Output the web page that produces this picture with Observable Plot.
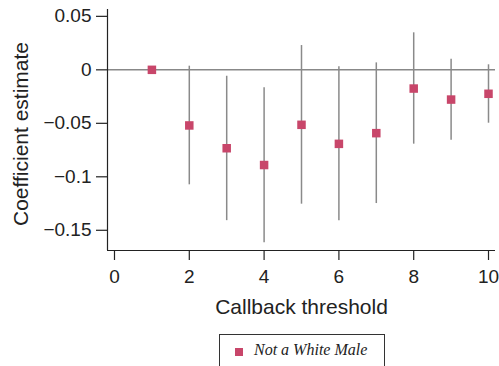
<!DOCTYPE html>
<html>
<head>
<meta charset="utf-8">
<script src="https://cdn.jsdelivr.net/npm/d3@7"></script>
<script src="https://cdn.jsdelivr.net/npm/@observablehq/plot@0.6"></script>
<style>
  body { margin: 0; background: #fff; width: 499px; height: 366px; overflow: hidden; }
  #chart svg { display: block; }
  .legend {
    position: absolute; left: 219px; top: 334px; width: 166px; height: 50px;
    border: 1px solid #333; box-sizing: border-box; background: #fff;
  }
  .legend .sw { position: absolute; left: 15px; top: 13px; width: 8px; height: 8px; background: #c8466a; }
  .legend .lbl { position: absolute; left: 34px; top: 6px; font-family: "Liberation Serif", "Times New Roman", serif;
    font-style: italic; font-size: 16px; color: #222; white-space: nowrap; }
</style>
</head>
<body>
<div id="chart"></div>
<div class="legend"><div class="sw"></div><div class="lbl">Not a White Male</div></div>
<script>
const thresholds = [1, 2, 3, 4, 5, 6, 7, 8, 9, 10];
const estimates  = [0, -0.052, -0.0733, -0.089, -0.0514, -0.0692, -0.0592, -0.0175, -0.0278, -0.0224];
const ciLow      = [0, -0.1075, -0.141, -0.1617, -0.1256, -0.1411, -0.125, -0.0695, -0.0658, -0.0499];
const ciHigh     = [0, 0.0034, -0.006, -0.0168, 0.0227, 0.0028, 0.0065, 0.0346, 0.0099, 0.0047];
const xTicks = [0, 2, 4, 6, 8, 10];
const yTicks = [0.05, 0, -0.05, -0.1, -0.15];
const yTickLabels = ["0.05", "0", "\u22120.05", "\u22120.1", "\u22120.15"];
const seriesName = "Not a White Male";

const data = thresholds.map((t, i) => ({x: t, y: estimates[i], lo: ciLow[i], hi: ciHigh[i]}));
const ci = data.filter(d => d.lo !== d.hi);

const xDomain = [-0.187, 10.187];
const yDomain = [-0.1689, 0.0564];
const font = "'Liberation Sans', Arial, Helvetica, sans-serif";
const ink = "#222";
const pink = "#c8466a";

const chart = Plot.plot({
  width: 499,
  height: 330,
  marginLeft: 107,
  marginRight: 4,
  marginTop: 9,
  marginBottom: 80,
  style: {fontFamily: font, fontSize: "19px", color: ink, background: "#fff", overflow: "visible"},
  x: {domain: xDomain, ticks: xTicks},
  y: {domain: yDomain, ticks: yTicks},
  marks: [
    Plot.ruleY([0], {stroke: "#888", strokeWidth: 1.5}),
    Plot.ruleX(ci, {x: "x", y1: "lo", y2: "hi", stroke: "#8a8a8a", strokeWidth: 1.5}),
    Plot.dot(data, {x: "x", y: "y", symbol: "square", r: 4.8, fill: pink, stroke: "none"}),
    Plot.ruleX([xDomain[0]], {stroke: ink, strokeWidth: 1.2}),
    Plot.ruleY([yDomain[0]], {stroke: ink, strokeWidth: 1.2}),
    Plot.axisX({ticks: xTicks, tickSize: 10, tickPadding: 9, tickFormat: d => String(d), label: null,
      stroke: ink, strokeWidth: 1.2, fontSize: 19}),
    Plot.axisY({ticks: yTicks, tickSize: 11, tickPadding: 5, label: null,
      tickFormat: d => yTickLabels[yTicks.indexOf(d)], stroke: ink, strokeWidth: 1.2, fontSize: 19}),
    Plot.text([0], {frameAnchor: "bottom", text: () => "Callback threshold", dy: 56.3, lineAnchor: "middle",
      fontSize: 21, fill: ink}),
    Plot.text([0], {frameAnchor: "left", text: () => "Coefficient estimate", dx: -86, dy: 4, rotate: -90,
      fontSize: 21, fill: ink, textAnchor: "middle"})
  ]
});
document.getElementById("chart").appendChild(chart);
</script>
</body>
</html>
